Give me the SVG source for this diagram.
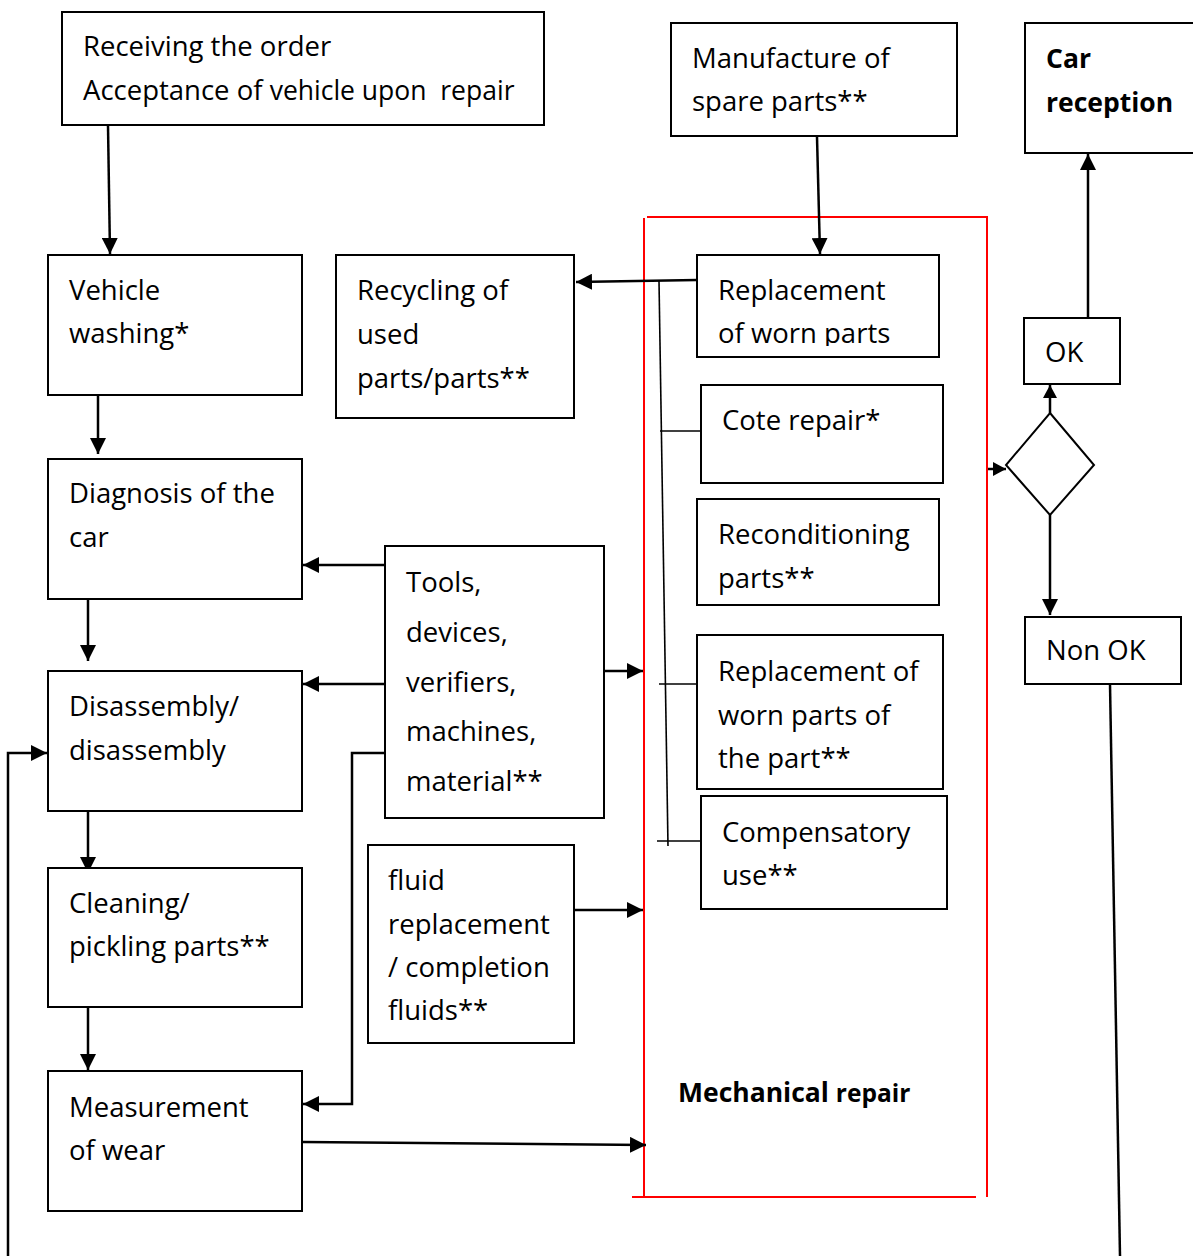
<svg xmlns="http://www.w3.org/2000/svg" width="1193" height="1256" viewBox="0 0 1193 1256">
  <style>
    .box { fill: #fff; stroke: #000; stroke-width: 2; }
    .t { font-family: "Open Sans", "Noto Sans", sans-serif; font-size: 27.5px; fill: #000; }
    .b { font-family: "Open Sans", "Noto Sans", sans-serif; font-size: 26.5px; font-weight: bold; fill: #000; }
    .ln { fill: none; stroke: #000; stroke-width: 2.5; }
    .thin { fill: none; stroke: #000; stroke-width: 1.6; }
    .arr { fill: none; stroke: #000; stroke-width: 2.5; marker-end: url(#ah); }
    .red { fill: none; stroke: #ff0000; stroke-width: 2; }
  </style>
  <defs>
    <marker id="ah" markerUnits="userSpaceOnUse" markerWidth="17" markerHeight="16" refX="16" refY="8" orient="auto">
      <path d="M0,0 L16,8 L0,16 Z" fill="#000"/>
    </marker>
    <marker id="ahs" markerUnits="userSpaceOnUse" markerWidth="14" markerHeight="14" refX="13" refY="7" orient="auto">
      <path d="M0,0 L13,7 L0,14 Z" fill="#000"/>
    </marker>
    <clipPath id="clipWorn">
      <rect x="697" y="255" width="242" height="91"/>
    </clipPath>
  </defs>

  <!-- Mechanical repair frame -->
  <g id="mechanical-repair">
    <line class="red" x1="647" y1="217" x2="988" y2="217"/>
    <line class="red" x1="644" y1="218" x2="644" y2="1197"/>
    <line class="red" x1="987" y1="217" x2="987" y2="1197"/>
    <line class="red" x1="632" y1="1197" x2="976" y2="1197"/>
    <text class="b" x="678" y="1102" font-size="26">Mechanical <tspan font-size="24.5">repair</tspan></text>
  </g>

  <!-- Connectors -->
  <g id="connectors">
    <line class="arr" x1="108" y1="126" x2="110" y2="254"/>
    <line class="arr" x1="98" y1="392" x2="98" y2="454"/>
    <line class="arr" x1="88" y1="599" x2="88" y2="661"/>
    <line class="arr" x1="88" y1="811" x2="88" y2="873"/>
    <line class="arr" x1="88" y1="1007" x2="88" y2="1070"/>
    <polyline class="arr" points="8,1256 8,753 47,753"/>

    <line class="arr" x1="385" y1="565" x2="303" y2="565"/>
    <line class="arr" x1="385" y1="684" x2="303" y2="684"/>
    <polyline class="arr" points="385,753 352,753 352,1104 303,1104"/>

    <line class="arr" x1="604" y1="671" x2="643" y2="671"/>
    <line class="arr" x1="575" y1="910" x2="643" y2="910"/>
    <line class="arr" x1="303" y1="1142" x2="646" y2="1145"/>

    <line class="arr" x1="817" y1="137" x2="820" y2="254"/>
    <line class="arr" x1="697" y1="280" x2="576" y2="282"/>
    <line class="thin" x1="659" y1="281" x2="668" y2="846"/>
    <line class="thin" x1="660" y1="431" x2="701" y2="431"/>
    <line class="thin" x1="659" y1="684" x2="697" y2="684"/>
    <line class="thin" x1="657" y1="841" x2="701" y2="841"/>

    <line class="ln" x1="988" y1="469" x2="1006" y2="469" marker-end="url(#ahs)"/>
    <line class="ln" x1="1050" y1="413" x2="1050" y2="385" marker-end="url(#ahs)"/>
    <line class="arr" x1="1088" y1="318" x2="1088" y2="154"/>
    <line class="arr" x1="1050" y1="515" x2="1050" y2="615"/>
    <line class="ln" x1="1110" y1="684" x2="1120" y2="1256"/>
  </g>

  <g id="receiving-order">
    <rect class="box" x="62" y="12" width="482" height="113"/>
    <text class="t" x="83" y="56">Receiving the order</text>
    <text class="t" x="83" y="100" xml:space="preserve" style="white-space: pre">Acceptance of <tspan font-size="26.5">vehicle upon  repair</tspan></text>
  </g>

  <g id="vehicle-washing">
    <rect class="box" x="48" y="255" width="254" height="140"/>
    <text class="t" x="69" y="300">Vehicle</text>
    <text class="t" x="69" y="343">washing*</text>
  </g>

  <g id="diagnosis">
    <rect class="box" x="48" y="459" width="254" height="140"/>
    <text class="t" x="69" y="503">Diagnosis of the</text>
    <text class="t" x="69" y="547">car</text>
  </g>

  <g id="disassembly">
    <rect class="box" x="48" y="671" width="254" height="140"/>
    <text class="t" x="69" y="716">Disassembly/</text>
    <text class="t" x="69" y="760">disassembly</text>
  </g>

  <g id="cleaning">
    <rect class="box" x="48" y="868" width="254" height="139"/>
    <text class="t" x="69" y="913">Cleaning/</text>
    <text class="t" x="69" y="956">pickling parts**</text>
  </g>

  <g id="measurement">
    <rect class="box" x="48" y="1071" width="254" height="140"/>
    <text class="t" x="69" y="1117">Measurement</text>
    <text class="t" x="69" y="1160">of wear</text>
  </g>

  <g id="recycling">
    <rect class="box" x="336" y="255" width="238" height="163"/>
    <text class="t" x="357" y="300">Recycling of</text>
    <text class="t" x="357" y="344">used</text>
    <text class="t" x="357" y="388">parts/parts**</text>
  </g>

  <g id="tools">
    <rect class="box" x="385" y="546" width="219" height="272"/>
    <text class="t" x="406" y="592">Tools,</text>
    <text class="t" x="406" y="642">devices,</text>
    <text class="t" x="406" y="692">verifiers,</text>
    <text class="t" x="406" y="741">machines,</text>
    <text class="t" x="406" y="791">material**</text>
  </g>

  <g id="fluid-replacement">
    <rect class="box" x="368" y="845" width="206" height="198"/>
    <text class="t" x="388" y="890">fluid</text>
    <text class="t" x="388" y="934">replacement</text>
    <text class="t" x="388" y="977">/ completion</text>
    <text class="t" x="388" y="1020">fluids**</text>
  </g>

  <g id="manufacture">
    <rect class="box" x="671" y="23" width="286" height="113"/>
    <text class="t" x="692" y="68">Manufacture of</text>
    <text class="t" x="692" y="111">spare parts**</text>
  </g>

  <g id="replacement-worn">
    <rect class="box" x="697" y="255" width="242" height="102"/>
    <g clip-path="url(#clipWorn)">
      <text class="t" x="718" y="300">Replacement</text>
      <text class="t" x="718" y="343">of worn parts</text>
    </g>
  </g>

  <g id="cote-repair">
    <rect class="box" x="701" y="385" width="242" height="98"/>
    <text class="t" x="722" y="430">Cote repair*</text>
  </g>

  <g id="reconditioning">
    <rect class="box" x="697" y="499" width="242" height="106"/>
    <text class="t" x="718" y="544">Reconditioning</text>
    <text class="t" x="718" y="588">parts**</text>
  </g>

  <g id="replacement-part">
    <rect class="box" x="697" y="635" width="246" height="154"/>
    <text class="t" x="718" y="681">Replacement of</text>
    <text class="t" x="718" y="725">worn parts of</text>
    <text class="t" x="718" y="768">the part**</text>
  </g>

  <g id="compensatory">
    <rect class="box" x="701" y="796" width="246" height="113"/>
    <text class="t" x="722" y="842">Compensatory</text>
    <text class="t" x="722" y="885">use**</text>
  </g>

  <g id="car-reception">
    <rect class="box" x="1025" y="23" width="180" height="130"/>
    <text class="b" x="1046" y="68">Car</text>
    <text class="b" x="1046" y="112">reception</text>
  </g>

  <g id="ok">
    <rect class="box" x="1024" y="318" width="96" height="66"/>
    <text class="t" x="1045" y="362">OK</text>
  </g>

  <g id="decision">
    <polygon class="box" points="1050,413 1094,465 1050,515 1006,465"/>
  </g>

  <g id="non-ok">
    <rect class="box" x="1025" y="617" width="156" height="67"/>
    <text class="t" x="1046" y="660">Non OK</text>
  </g>
</svg>
